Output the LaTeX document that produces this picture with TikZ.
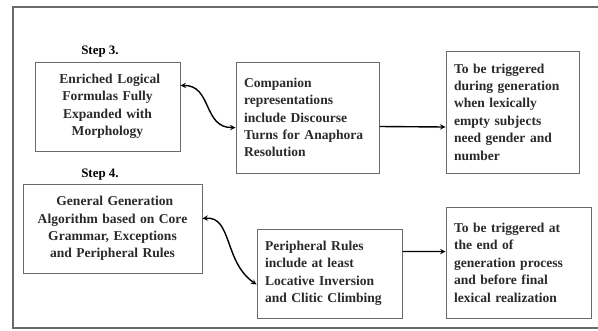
\documentclass[tikz,border=0pt]{standalone}
\usepackage{fontspec}
\setmainfont{Liberation Serif}
\definecolor{framegray}{HTML}{6A6A6A}
\definecolor{txtgray}{HTML}{2A2A2A}
\tikzset{
  stepbox/.style={draw=framegray, line width=1pt, inner sep=8bp, text=txtgray,
    font=\bfseries\fontsize{13.6}{17.5}\selectfont},
  steplabel/.style={font=\bfseries\fontsize{13}{15}\selectfont, text=black},
  flow/.style={-stealth, line width=1.4pt},
  twoway/.style={stealth-stealth, line width=1.4pt},
}
\begin{document}
\begin{tikzpicture}[x=1bp,y=-1bp]
  \useasboundingbox (0,0) rectangle (598,330);
  \draw[framegray, line width=1.5pt] (598,7) -- (13,7) -- (13,328) -- (598,328); % frame

  % Step 3
  \node[steplabel] (step3) at (100,52) {Step 3.};
  \node[stepbox, text width=129bp, minimum height=89bp, align=center] (enriched) at (107.5,106.5)
    {~Enriched Logical\\Formulas Fully\\Expanded with\\Morphology};
  \node[stepbox, text width=127bp, minimum height=111bp, align=left] (companion) at (307.5,117.5)
    {Companion\\representations\\include Discourse\\Turns for Anaphora\\Resolution};
  \node[stepbox, text width=117bp, minimum height=122bp, align=left] (trigger1) at (512.5,112)
    {To be triggered\\during generation\\when lexically\\empty subjects\\need gender and\\number};
  \draw[twoway] ([yshift=21bp]enriched.east) .. controls (212,85) and (203,128) .. ([yshift=-10bp]companion.west);
  \draw[flow] ([yshift=-9bp]companion.east) -- ([yshift=-15bp]trigger1.west);

  % Step 4
  \node[steplabel] (step4) at (100,175) {Step 4.};
  \node[stepbox, inner xsep=3bp, text width=173bp, minimum height=89bp, align=center] (general) at (112.5,228.5)
    {~General Generation\\Algorithm based on Core\\Grammar, Exceptions\\and Peripheral Rules};
  \node[stepbox, text width=129bp, minimum height=89bp, align=left] (peripheral) at (329.5,273.5)
    {Peripheral Rules\\include at least\\Locative Inversion\\and Clitic Climbing};
  \node[stepbox, text width=129bp, minimum height=111bp, align=left] (trigger2) at (518.5,262.5)
    {To be triggered at\\the end of\\generation process\\and before final\\lexical realization};
  \draw[twoway] ([yshift=10bp]general.east) .. controls (232,216) and (224,262) .. ([yshift=-11bp]peripheral.west);
  \draw[flow] ([yshift=22bp]peripheral.east) -- ([yshift=11bp]trigger2.west);
\end{tikzpicture}
\end{document}
